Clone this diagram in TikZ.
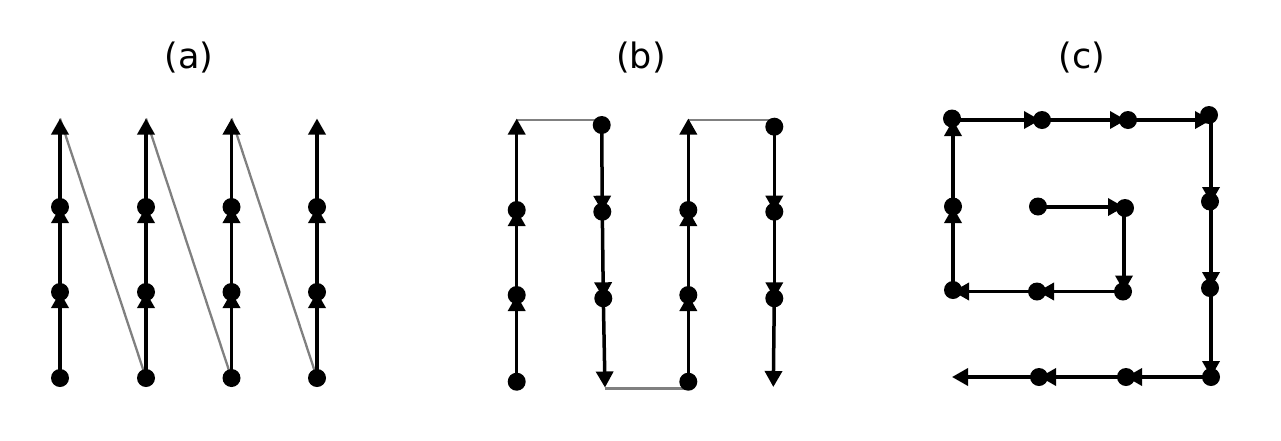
\documentclass[tikz,border=0pt]{standalone}
\usepackage{fontspec}
\setmainfont{DejaVu Sans}
\usetikzlibrary{arrows.meta}
\tikzset{
  arr/.style={line width=3.5pt,-{Triangle[length=16pt,width=17pt]}},
  link/.style={line width=2.3pt,draw={rgb,255:red,128;green,128;blue,128}},
  dot/.style={circle,fill=black,inner sep=0pt,minimum size=18pt},
  ttl/.style={anchor=base,font=\fontsize{35}{40}\selectfont}
}
\begin{document}
\begin{tikzpicture}[x=1pt,y=-1pt]
\useasboundingbox (0,0) rectangle (1281,440);
% titles
\node[ttl] (ta) at (189,68.5) {(a)};
\node[ttl] (tb) at (641,68.5) {(b)};
\node[ttl] (tc) at (1082,68.5) {(c)};
% ---------- panel (a) ----------
\foreach \c/\x in {1/60,2/146,3/231.5,4/317}{
  \coordinate (a\c1) at (\x,378);
  \coordinate (a\c2) at (\x,292);
  \coordinate (a\c3) at (\x,207);
  \coordinate (a\c4) at (\x,118.5);
}
\draw[link] (a14) -- (a21);
\draw[link] (a24) -- (a31);
\draw[link] (a34) -- (a41);
\foreach \c in {1,2,3,4}{
  \draw[arr] (a\c1) -- (a\c2);
  \draw[arr] (a\c2) -- (a\c3);
  \draw[arr] (a\c3) -- (a\c4);
  \node[dot] at (a\c1) {};
  \node[dot] at (a\c2) {};
  \node[dot] at (a\c3) {};
}
% ---------- panel (b) ----------
\coordinate (b11) at (516.7,381.7);
\coordinate (b12) at (516.7,295);
\coordinate (b13) at (516.7,210);
\coordinate (b14) at (516.7,118.5);
\coordinate (b21) at (601.7,125);
\coordinate (b22) at (602.3,211.7);
\coordinate (b23) at (603.3,298.3);
\coordinate (b24) at (605,387.5);
\coordinate (b31) at (688.3,381.7);
\coordinate (b32) at (688.3,295);
\coordinate (b33) at (688.3,210);
\coordinate (b34) at (688.3,118.5);
\coordinate (b41) at (774.3,126.7);
\coordinate (b42) at (774.3,211.7);
\coordinate (b43) at (774.3,298.3);
\coordinate (b44) at (773.3,387);
\draw[link] ([yshift=-1.5pt]b14) -- ([yshift=-1.5pt]b14 -| b21);
\draw[link] ([yshift=-1pt]b24) -- ([yshift=-1pt]b24 -| b31);
\draw[link] ([yshift=-1.5pt]b34) -- ([yshift=-1.5pt]b34 -| b41);
\foreach \c in {1,2,3,4}{
  \draw[arr] (b\c1) -- (b\c2);
  \draw[arr] (b\c2) -- (b\c3);
  \draw[arr] (b\c3) -- (b\c4);
  \node[dot] at (b\c1) {};
  \node[dot] at (b\c2) {};
  \node[dot] at (b\c3) {};
}
% ---------- panel (c) ----------
% path points
\coordinate (g1) at (1038,207);
\coordinate (g2) at (1124,207);
\coordinate (g3) at (1124,291.5);
\coordinate (g4) at (1038,291.5);
\coordinate (g5) at (953,291.5);
\coordinate (g6) at (953,207);
\coordinate (g7) at (953,120);
\coordinate (g8) at (1040,120);
\coordinate (g9) at (1126,120);
\coordinate (g10) at (1211,120);
\coordinate (g11) at (1211,203);
\coordinate (g12) at (1211,288);
\coordinate (g13) at (1211,377);
\coordinate (g14) at (1126,377);
\coordinate (g15) at (1040,377);
\coordinate (g16) at (952,377);
\foreach \i [evaluate=\i as \j using int(\i+1)] in {1,...,15}{
  \draw[arr] (g\i) -- (g\j);
}
% dots
\node[dot] (c1) at (1038,206.5) {};
\node[dot] (c2) at (1125,208) {};
\node[dot] (c3) at (1123,291.5) {};
\node[dot] (c4) at (1037,291.5) {};
\node[dot] (c5) at (953,290) {};
\node[dot] (c6) at (953,206.5) {};
\node[dot] (c7) at (952,118.5) {};
\node[dot] (c8) at (1042,120) {};
\node[dot] (c9) at (1128,120) {};
\node[dot] (c10) at (1209,115) {};
\node[dot] (c11) at (1210,201.5) {};
\node[dot] (c12) at (1210,288) {};
\node[dot] (c13) at (1211,377) {};
\node[dot] (c14) at (1126,377) {};
\node[dot] (c15) at (1039,377) {};
\end{tikzpicture}
\end{document}
